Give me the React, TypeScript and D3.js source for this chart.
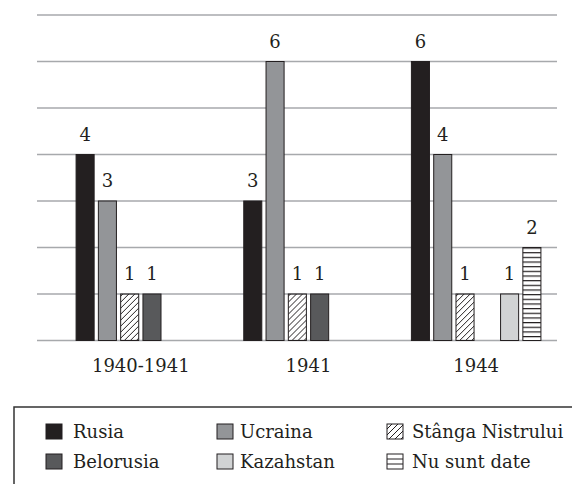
import { useEffect, useRef } from 'react';
import * as d3 from 'd3';

const periods = ['1940-1941', '1941', '1944'];
const regions = ['Rusia', 'Ucraina', 'Stânga Nistrului', 'Belorusia', 'Kazahstan', 'Nu sunt date'];
const rusia = [4, 3, 6];
const ucraina = [3, 6, 4];
const stanga = [1, 1, 1];
const belorusia = [1, 1, null];
const kazahstan = [null, null, 1];
const nuSuntDate = [null, null, 2];
const yTicks = [0, 1, 2, 3, 4, 5, 6, 7];

const seriesValues: (number | null)[][] = [rusia, ucraina, stanga, belorusia, kazahstan, nuSuntDate];
const fills = ['#231f20', '#939598', 'url(#hatch)', '#58595b', '#d1d3d4', 'url(#lines)'];

export default function App() {
  const svgRef = useRef<SVGSVGElement>(null);

  useEffect(() => {
    if (!svgRef.current) return;
    const width = 572;
    const height = 484;
    const font = '"DejaVu Serif", serif';
    const ink = '#231f20';

    d3.select(svgRef.current).selectAll('*').remove();
    const svg = d3.select(svgRef.current).attr('width', width).attr('height', height);

    const defs = svg.append('defs');
    defs
      .append('pattern')
      .attr('id', 'hatch')
      .attr('patternUnits', 'userSpaceOnUse')
      .attr('width', 6)
      .attr('height', 6)
      .append('path')
      .attr('d', 'M-1,1 l2,-2 M0,6 l6,-6 M5,7 l2,-2')
      .attr('stroke', ink)
      .attr('stroke-width', 1);
    const lines = defs
      .append('pattern')
      .attr('id', 'lines')
      .attr('patternUnits', 'userSpaceOnUse')
      .attr('width', 8)
      .attr('height', 4.66)
      .attr('y', 0.5);
    lines.append('rect').attr('width', 8).attr('height', 4.66).attr('fill', '#fff');
    lines
      .append('line')
      .attr('x1', 0)
      .attr('x2', 8)
      .attr('y1', 0.6)
      .attr('y2', 0.6)
      .attr('stroke', ink)
      .attr('stroke-width', 1.2);
    const hatchBig = defs
      .append('pattern')
      .attr('id', 'hatchBig')
      .attr('patternUnits', 'userSpaceOnUse')
      .attr('width', 6)
      .attr('height', 6);
    hatchBig
      .append('path')
      .attr('d', 'M-1,1 l2,-2 M0,6 l6,-6 M5,7 l2,-2')
      .attr('stroke', ink)
      .attr('stroke-width', 1);

    const x0 = d3.scaleBand().domain(periods).range([57, 560]).padding(0);
    const x1 = d3.scaleBand().domain(regions).range([-64.75, 64.75]).paddingInner(0.19).paddingOuter(0);
    const y = d3.scaleLinear().domain([0, 7]).range([340.5, 15]);

    svg
      .append('g')
      .selectAll('line')
      .data(yTicks)
      .enter()
      .append('line')
      .attr('x1', 37)
      .attr('x2', 557)
      .attr('y1', (d) => y(d))
      .attr('y2', (d) => y(d))
      .attr('stroke', '#a7a9ac')
      .attr('stroke-width', 1.6);

    const groups = svg
      .append('g')
      .selectAll('g')
      .data(periods)
      .enter()
      .append('g')
      .attr('transform', (p) => `translate(${(x0(p) || 0) + x0.bandwidth() / 2},0)`);

    groups.each(function (p, pi) {
      const g = d3.select(this);
      const items = regions
        .map((r, ri) => ({ r, ri, v: seriesValues[ri][pi] }))
        .filter((d) => d.v != null) as { r: string; ri: number; v: number }[];
      g.selectAll('rect')
        .data(items)
        .enter()
        .append('rect')
        .attr('x', (d) => x1(d.r) || 0)
        .attr('y', (d) => y(d.v))
        .attr('width', x1.bandwidth())
        .attr('height', (d) => y(0) - y(d.v))
        .attr('fill', (d) => fills[d.ri])
        .attr('stroke', ink)
        .attr('stroke-width', 1);
      g.selectAll('text')
        .data(items)
        .enter()
        .append('text')
        .attr('x', (d) => (x1(d.r) || 0) + x1.bandwidth() / 2)
        .attr('y', (d) => y(d.v) - 14)
        .attr('text-anchor', 'middle')
        .style('font-family', font)
        .style('font-size', '18px')
        .style('fill', ink)
        .text((d) => d.v);
    });

    svg
      .append('g')
      .selectAll('text')
      .data(periods)
      .enter()
      .append('text')
      .attr('x', (p) => (x0(p) || 0) + x0.bandwidth() / 2)
      .attr('y', 372)
      .attr('text-anchor', 'middle')
      .style('font-family', font)
      .style('font-size', '18px')
      .style('fill', ink)
      .text((p) => p);

    // legend
    svg
      .append('path')
      .attr('d', 'M14,490 V407 H580')
      .attr('fill', 'none')
      .attr('stroke', '#333')
      .attr('stroke-width', 1.5);

    const colSwatch = [46, 217, 387];
    const colText = [73, 240, 412];
    const rowTop = [424, 454];
    const legendOrder = [0, 1, 2, 3, 4, 5];
    legendOrder.forEach((ri, i) => {
      const col = i % 3;
      const row = Math.floor(i / 3);
      const sx = colSwatch[col];
      const sy = rowTop[row];
      const fill = ri === 2 ? 'url(#hatchBig)' : ri === 5 ? '#fff' : fills[ri];
      svg
        .append('rect')
        .attr('x', sx)
        .attr('y', sy)
        .attr('width', 16)
        .attr('height', 15)
        .attr('fill', fill)
        .attr('stroke', ink)
        .attr('stroke-width', 1);
      if (ri === 5) {
        [1, 2].forEach((k) => {
          svg
            .append('line')
            .attr('x1', sx)
            .attr('x2', sx + 16)
            .attr('y1', sy + (15 * k) / 3)
            .attr('y2', sy + (15 * k) / 3)
            .attr('stroke', ink)
            .attr('stroke-width', 1);
        });
      }
      svg
        .append('text')
        .attr('x', colText[col])
        .attr('y', sy + 14)
        .style('font-family', font)
        .style('font-size', '18px')
        .style('fill', ink)
        .text(regions[ri]);
    });
  }, []);

  return (
    <div style={{ position: 'absolute', left: 0, top: 0 }}>
      <svg ref={svgRef} style={{ display: 'block' }} />
    </div>
  );
}
